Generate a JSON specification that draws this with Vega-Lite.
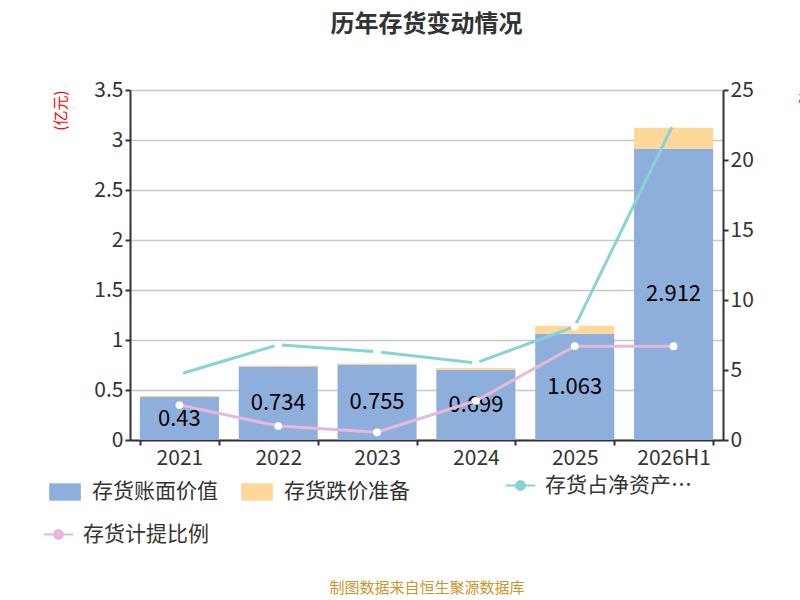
{
  "$schema": "https://vega.github.io/schema/vega-lite/v6.json",
  "autosize": {"type": "none"},
  "padding": {"left": 130, "top": 90, "right": 77, "bottom": 160},
  "width": 593,
  "height": 350,
  "background": "white",
  "title": {"text": "历年存货变动情况", "fontSize": 24, "font": "Noto Sans CJK SC", "fontWeight": "bold", "color": "#333333", "offset": 42},
  "config": {"font": "Noto Sans CJK SC", "view": {"stroke": null}},
  "datasets": {
    "bars": [
      {"year": "2021", "type": "存货账面价值", "v": 0.43, "label": "0.43"},
      {"year": "2021", "type": "存货跌价准备", "v": 0.01, "label": ""},
      {"year": "2022", "type": "存货账面价值", "v": 0.734, "label": "0.734"},
      {"year": "2022", "type": "存货跌价准备", "v": 0.01, "label": ""},
      {"year": "2023", "type": "存货账面价值", "v": 0.755, "label": "0.755"},
      {"year": "2023", "type": "存货跌价准备", "v": 0.01, "label": ""},
      {"year": "2024", "type": "存货账面价值", "v": 0.699, "label": "0.699"},
      {"year": "2024", "type": "存货跌价准备", "v": 0.02, "label": ""},
      {"year": "2025", "type": "存货账面价值", "v": 1.063, "label": "1.063"},
      {"year": "2025", "type": "存货跌价准备", "v": 0.08, "label": ""},
      {"year": "2026H1", "type": "存货账面价值", "v": 2.912, "label": "2.912"},
      {"year": "2026H1", "type": "存货跌价准备", "v": 0.21, "label": ""}
    ],
    "lines": [
      {"year": "2021", "s": "存货占净资产比例", "p": 4.7},
      {"year": "2022", "s": "存货占净资产比例", "p": 6.8},
      {"year": "2023", "s": "存货占净资产比例", "p": 6.3},
      {"year": "2024", "s": "存货占净资产比例", "p": 5.5},
      {"year": "2025", "s": "存货占净资产比例", "p": 8.1},
      {"year": "2026H1", "s": "存货占净资产比例", "p": 22.6},
      {"year": "2021", "s": "存货计提比例", "p": 2.5},
      {"year": "2022", "s": "存货计提比例", "p": 1.0},
      {"year": "2023", "s": "存货计提比例", "p": 0.55},
      {"year": "2024", "s": "存货计提比例", "p": 2.8},
      {"year": "2025", "s": "存货计提比例", "p": 6.7},
      {"year": "2026H1", "s": "存货计提比例", "p": 6.7}
    ]
  },
  "encoding": {
    "x": {"field": "year", "type": "nominal", "sort": null,
      "scale": {"paddingInner": 0.2, "paddingOuter": 0.1},
      "axis": {"labelAngle": 0, "labelFontSize": 21, "labelColor": "#333333", "domainColor": "#333333", "domainWidth": 2, "tickColor": "#333333", "tickWidth": 2, "tickBand": "extent", "labelPadding": 2,
        "title": "制图数据来自恒生聚源数据库", "titleFontSize": 15, "titleFontWeight": "normal", "titleColor": "#c8952e", "titlePadding": 112}}
  },
  "layer": [
    {
      "data": {"name": "bars"},
      "mark": {"type": "bar"},
      "encoding": {
        "y": {"field": "v", "type": "quantitative", "stack": "zero",
          "scale": {"domain": [0, 3.5]},
          "axis": {"values": [0, 0.5, 1, 1.5, 2, 2.5, 3, 3.5], "format": "~g", "labelFontSize": 21, "labelColor": "#333333", "domainColor": "#333333", "domainWidth": 2, "tickColor": "#333333", "tickWidth": 2, "gridColor": "#c8c8c8", "gridWidth": 1.5,
            "title": "(亿元)", "titleColor": "red", "titleFontSize": 15, "titleFontWeight": "normal", "titleAngle": -90, "titleAlign": "right", "titleY": 0, "titleX": -62}},
        "color": {"field": "type", "type": "nominal",
          "scale": {"domain": ["存货账面价值", "存货跌价准备"], "range": ["#8eaedb", "#fdd899"]},
          "legend": {"orient": "none", "legendX": -82, "legendY": 385, "direction": "horizontal", "title": null, "labelFontSize": 21, "labelColor": "#333333", "symbolType": "M-1,-0.55L1,-0.55L1,0.55L-1,0.55Z", "symbolSize": 1000, "columnPadding": 22, "labelOffset": 10}},
        "order": {"field": "type", "sort": "ascending"}
      }
    },
    {
      "data": {"name": "bars"},
      "transform": [{"filter": "datum.type == '存货账面价值'"}, {"calculate": "datum.v / 2", "as": "mid"}],
      "mark": {"type": "text", "fontSize": 22, "color": "black", "baseline": "middle"},
      "encoding": {
        "y": {"field": "mid", "type": "quantitative", "scale": {"domain": [0, 3.5]}, "axis": null},
        "text": {"field": "label"}
      }
    },
    {
      "data": {"name": "lines"},
      "transform": [{"filter": "datum.s == '存货占净资产比例'"}],
      "mark": {"type": "line", "strokeWidth": 3, "point": {"filled": true, "fill": "white", "size": 60, "strokeWidth": 1.5}},
      "encoding": {
        "y": {"field": "p", "type": "quantitative", "scale": {"domain": [0, 25]},
          "axis": {"orient": "right", "values": [0, 5, 10, 15, 20, 25], "grid": false, "labelFontSize": 21, "labelColor": "#333333", "domainColor": "#333333", "domainWidth": 2, "tickColor": "#333333", "tickWidth": 2,
            "title": "%", "titleColor": "red", "titleFontSize": 15, "titleFontWeight": "normal", "titleAngle": 90, "titleAlign": "left", "titleY": 0, "titleX": 72}},
        "color": {"field": "s", "type": "nominal",
          "scale": {"domain": ["存货占净资产比例"], "range": ["#86d4d6"]},
          "legend": {"orient": "none", "legendX": 380, "legendY": 385, "title": null, "labelFontSize": 21, "labelColor": "#333333", "symbolType": "M-2,0L-0.6,0M0.6,0L2,0M-0.6,0A0.6,0.6 0 1,0 0.6,0A0.6,0.6 0 1,0 -0.6,0", "symbolSize": 220, "symbolFillColor": "white", "symbolStrokeWidth": 2, "labelOffset": 14}}
      }
    },
    {
      "data": {"name": "lines"},
      "transform": [{"filter": "datum.s == '存货计提比例'"}],
      "mark": {"type": "line", "strokeWidth": 3, "point": {"filled": true, "fill": "white", "size": 60, "strokeWidth": 1.5}},
      "encoding": {
        "y": {"field": "p", "type": "quantitative", "scale": {"domain": [0, 25]}, "axis": null},
        "color": {"field": "s", "type": "nominal",
          "scale": {"domain": ["存货计提比例"], "range": ["#e8b8da"]},
          "legend": {"orient": "none", "legendX": -82, "legendY": 434, "title": null, "labelFontSize": 21, "labelColor": "#333333", "symbolType": "M-2,0L-0.6,0M0.6,0L2,0M-0.6,0A0.6,0.6 0 1,0 0.6,0A0.6,0.6 0 1,0 -0.6,0", "symbolSize": 220, "symbolFillColor": "white", "symbolStrokeWidth": 2, "labelOffset": 14}}
      }
    }
  ],
  "resolve": {"scale": {"y": "independent", "color": "independent"}}
}
